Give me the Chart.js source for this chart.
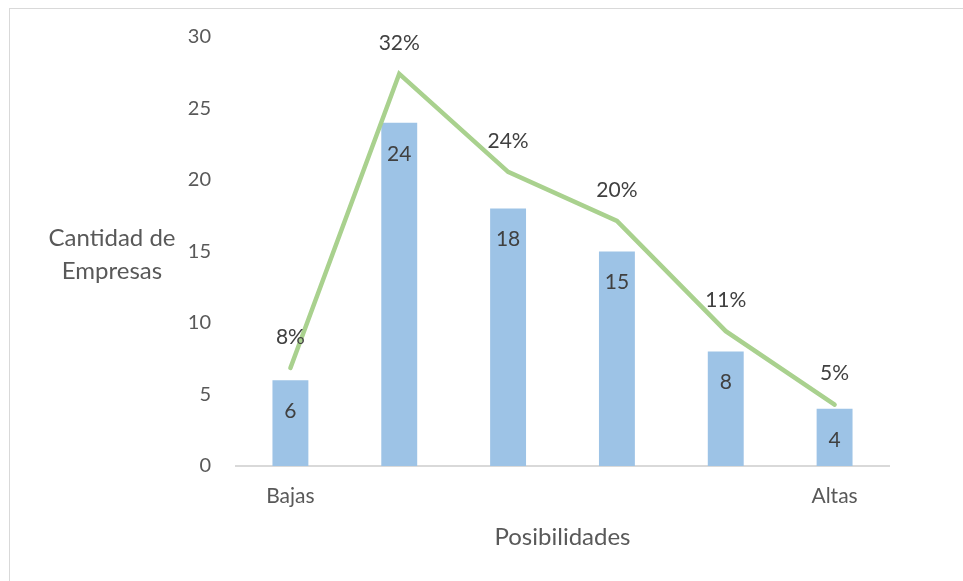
<!DOCTYPE html>
<html lang="es">
<head>
<meta charset="utf-8">
<title>Cantidad de Empresas por Posibilidades</title>
<script src="https://cdn.jsdelivr.net/npm/chart.js@4.4.1/dist/chart.umd.min.js"></script>
<style>
  html, body { margin: 0; padding: 0; background: #ffffff; }
  #wrap { position: relative; width: 963px; height: 581px; overflow: hidden; }
  #frame { position: absolute; left: 9px; top: 8px; width: 980px; height: 600px;
           border-left: 1.5px solid #d9d9d9; border-top: 1.5px solid #d9d9d9; box-sizing: border-box; }
  canvas { position: absolute; left: 0; top: 0; }
</style>
</head>
<body>
<div id="wrap">
  <div id="frame"></div>
  <canvas id="chart" width="963" height="581"></canvas>
</div>
<script>
// Categorías del eje X (solo los extremos llevan texto)
const categories = ['Bajas', '', '', '', '', 'Altas'];
// Cantidad de empresas por nivel de posibilidades
const empresas = [6, 24, 18, 15, 8, 4];
// Porcentaje sobre el total de empresas
const porcentajes = [8, 32, 24, 20, 11, 5];
// Marcas del eje Y
const yTicks = [0, 5, 10, 15, 20, 25, 30];

const FONT = 'Lato, "Liberation Sans", sans-serif';
const TICK_COLOR = '#595959';
const LABEL_COLOR = '#404040';

const labelsPlugin = {
  id: 'valueLabels',
  afterDatasetsDraw(chart) {
    const ctx = chart.ctx;
    ctx.save();
    ctx.font = '21px ' + FONT;
    ctx.fillStyle = LABEL_COLOR;
    ctx.textAlign = 'center';
    ctx.textBaseline = 'middle';
    chart.data.datasets.forEach((ds, i) => {
      const meta = chart.getDatasetMeta(i);
      meta.data.forEach((el, j) => {
        if (ds.type === 'bar') {
          ctx.fillText(String(ds.data[j]), el.x, el.y + 31);
        } else {
          ctx.fillText(ds.data[j] + '%', el.x, el.y - 31);
        }
      });
    });
    ctx.restore();
  }
};

const titlesPlugin = {
  id: 'axisTitles',
  afterDraw(chart) {
    const ctx = chart.ctx;
    const area = chart.chartArea;
    ctx.save();
    ctx.font = '24px ' + FONT;
    ctx.fillStyle = TICK_COLOR;
    ctx.textAlign = 'center';
    ctx.textBaseline = 'middle';
    ctx.fillText('Cantidad de', 112, 238);
    ctx.fillText('Empresas', 112, 271);
    ctx.fillText('Posibilidades', (area.left + area.right) / 2, 537);
    ctx.restore();
  }
};

new Chart(document.getElementById('chart'), {
  data: {
    labels: categories,
    datasets: [
      {
        type: 'line',
        label: 'Porcentaje',
        data: porcentajes,
        yAxisID: 'y2',
        borderColor: '#a9d18e',
        borderWidth: 4.5,
        borderCapStyle: 'round',
        borderJoinStyle: 'miter',
        pointRadius: 0,
        tension: 0,
        order: 0
      },
      {
        type: 'bar',
        label: 'Cantidad de Empresas',
        data: empresas,
        yAxisID: 'y',
        backgroundColor: '#9dc3e6',
        categoryPercentage: 1,
        barPercentage: 0.33,
        order: 1
      }
    ]
  },
  options: {
    responsive: false,
    animation: false,
    devicePixelRatio: 1,
    layout: { padding: { left: 0, right: 74, top: 37, bottom: 0 } },
    plugins: {
      legend: { display: false },
      tooltip: { enabled: false }
    },
    scales: {
      x: {
        grid: { display: false, drawTicks: false },
        border: { display: true, color: '#d9d9d9', width: 2 },
        ticks: { color: TICK_COLOR, font: { family: FONT, size: 21 }, padding: 18, maxRotation: 0, autoSkip: false },
        afterFit(scale) { scale.height = 115; }
      },
      y: {
        min: 0,
        max: 30,
        grid: { display: false, drawTicks: false },
        border: { display: false },
        afterBuildTicks(scale) { scale.ticks = yTicks.map(v => ({ value: v })); },
        ticks: { color: TICK_COLOR, font: { family: FONT, size: 20 }, padding: 25 },
        afterFit(scale) { scale.width = 236; }
      },
      y2: {
        display: false,
        min: 0,
        max: 35
      }
    }
  },
  plugins: [labelsPlugin, titlesPlugin]
});
</script>
</body>
</html>
